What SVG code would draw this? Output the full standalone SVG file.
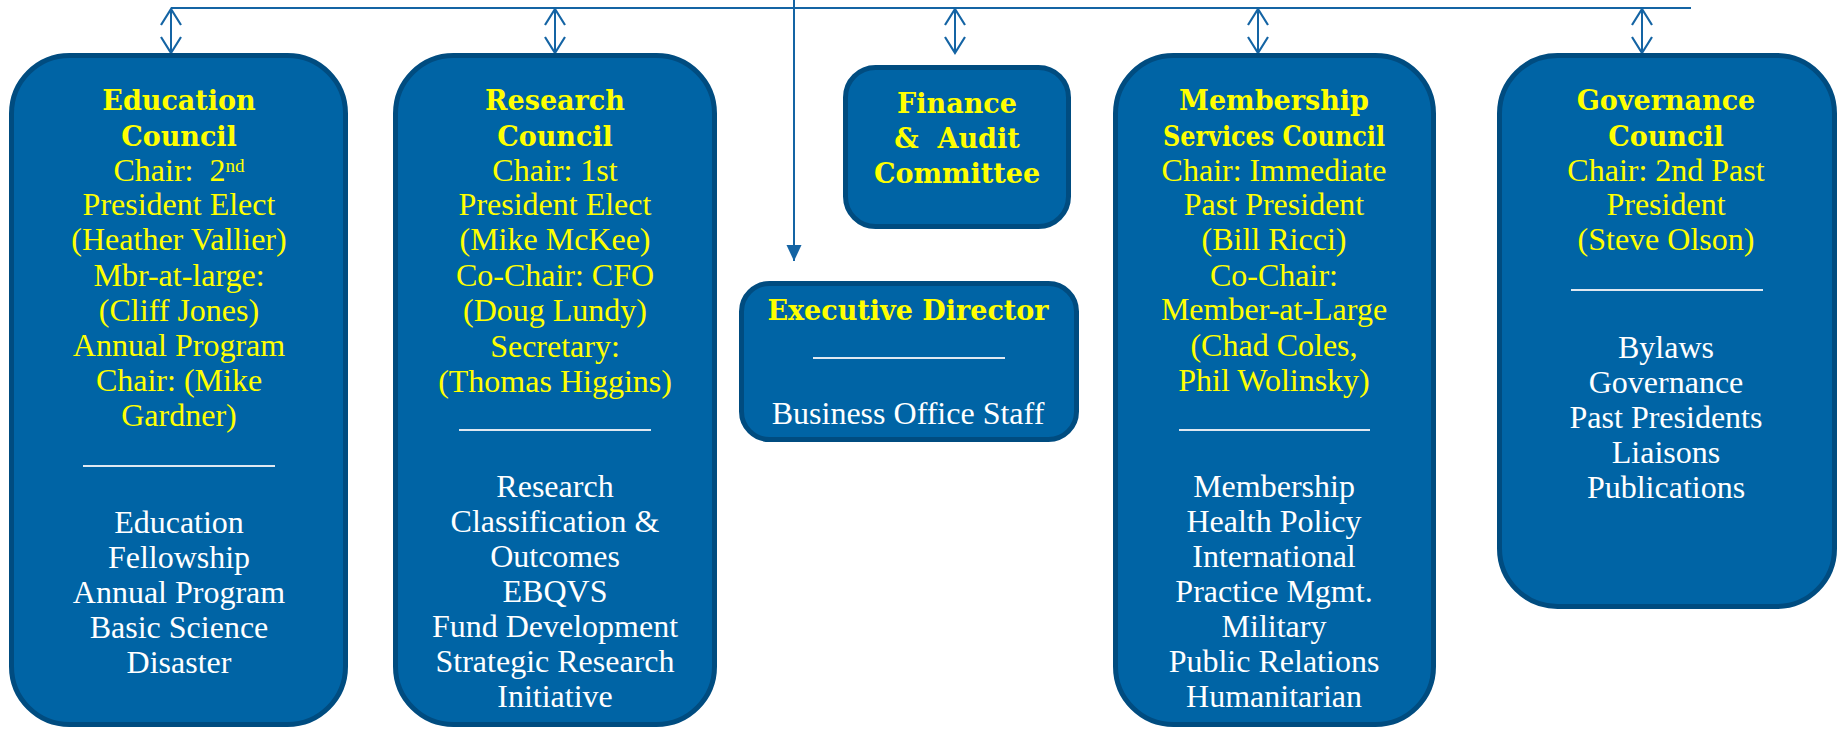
<svg xmlns="http://www.w3.org/2000/svg" width="1841" height="729" viewBox="0 0 1841 729">
<defs>
<style>
.box{fill:#0064a5;stroke:#004c80;stroke-width:5}
.h{font-family:"DejaVu Serif","Liberation Serif",serif;font-weight:bold;font-size:27px;fill:#ffff00;text-anchor:middle}
.y{font-family:"Liberation Serif","Times New Roman",serif;font-size:32px;fill:#ffff00;text-anchor:middle;white-space:pre}
.w{font-family:"Liberation Serif","Times New Roman",serif;font-size:32px;fill:#ffffff;text-anchor:middle}
.sep{stroke:#dfe8f1;stroke-width:2}
.conn{stroke:#1464a4;stroke-width:2;fill:none}
</style>
<marker id="chev" markerUnits="userSpaceOnUse" orient="auto-start-reverse" overflow="visible" markerWidth="1" markerHeight="1" refX="0" refY="0">
<path d="M-16,-10 L0,0 L-16,10" fill="none" stroke="#1464a4" stroke-width="2.2"/>
</marker>
<marker id="tri" markerUnits="userSpaceOnUse" orient="auto" overflow="visible" markerWidth="1" markerHeight="1" refX="0" refY="0">
<path d="M-16,-7.5 L0,0 L-16,7.5 Z" fill="#1464a4"/>
</marker>
</defs>
<rect width="1841" height="729" fill="#ffffff"/>

<g id="connectors">
<line class="conn" x1="171" y1="8" x2="1691" y2="8"/>
<line class="conn" x1="794" y1="0" x2="794" y2="261" marker-end="url(#tri)"/>
<line class="conn" x1="171" y1="9" x2="171" y2="53" marker-start="url(#chev)" marker-end="url(#chev)"/>
<line class="conn" x1="555" y1="9" x2="555" y2="53" marker-start="url(#chev)" marker-end="url(#chev)"/>
<line class="conn" x1="955" y1="9" x2="955" y2="53" marker-start="url(#chev)" marker-end="url(#chev)"/>
<line class="conn" x1="1258" y1="9" x2="1258" y2="53" marker-start="url(#chev)" marker-end="url(#chev)"/>
<line class="conn" x1="1642" y1="9" x2="1642" y2="53" marker-start="url(#chev)" marker-end="url(#chev)"/>
</g>

<g id="education">
<rect class="box" x="11.5" y="55.5" width="334" height="669" rx="58"/>
<text class="h" x="179" y="110">Education</text>
<text class="h" x="179" y="146">Council</text>
<text class="y" x="179" y="181">Chair:  2<tspan dy="-9" font-size="19">nd</tspan></text>
<text class="y" x="179" y="215">President Elect</text>
<text class="y" x="179" y="250">(Heather Vallier)</text>
<text class="y" x="179" y="286">Mbr-at-large:</text>
<text class="y" x="179" y="321">(Cliff Jones)</text>
<text class="y" x="179" y="356">Annual Program</text>
<text class="y" x="179" y="391">Chair: (Mike</text>
<text class="y" x="179" y="426">Gardner)</text>
<line class="sep" x1="83" y1="466" x2="275" y2="466"/>
<text class="w" x="179" y="533">Education</text>
<text class="w" x="179" y="568">Fellowship</text>
<text class="w" x="179" y="603">Annual Program</text>
<text class="w" x="179" y="638">Basic Science</text>
<text class="w" x="179" y="673">Disaster</text>
</g>

<g id="research">
<rect class="box" x="395.5" y="55.5" width="319" height="669" rx="58"/>
<text class="h" x="555" y="110">Research</text>
<text class="h" x="555" y="146">Council</text>
<text class="y" x="555" y="181">Chair: 1st</text>
<text class="y" x="555" y="215">President Elect</text>
<text class="y" x="555" y="250">(Mike McKee)</text>
<text class="y" x="555" y="286">Co-Chair: CFO</text>
<text class="y" x="555" y="321">(Doug Lundy)</text>
<text class="y" x="555" y="357">Secretary:</text>
<text class="y" x="555" y="392">(Thomas Higgins)</text>
<line class="sep" x1="459" y1="430" x2="651" y2="430"/>
<text class="w" x="555" y="497">Research</text>
<text class="w" x="555" y="532">Classification &amp;</text>
<text class="w" x="555" y="567">Outcomes</text>
<text class="w" x="555" y="602">EBQVS</text>
<text class="w" x="555" y="637">Fund Development</text>
<text class="w" x="555" y="672">Strategic Research</text>
<text class="w" x="555" y="707">Initiative</text>
</g>

<g id="finance">
<rect class="box" x="845.5" y="67.5" width="223" height="159" rx="30"/>
<text class="h" x="957" y="113">Finance</text>
<text class="h" x="957" y="148" style="white-space:pre">&amp;  Audit</text>
<text class="h" x="957" y="183">Committee</text>
</g>

<g id="executive">
<rect class="box" x="741.5" y="283.5" width="335" height="156" rx="28"/>
<text class="h" x="908" y="320">Executive Director</text>
<line class="sep" x1="813" y1="358" x2="1005" y2="358"/>
<text class="w" x="908" y="424">Business Office Staff</text>
</g>

<g id="membership">
<rect class="box" x="1115.5" y="55.5" width="318" height="669" rx="58"/>
<text class="h" x="1274" y="110">Membership</text>
<text class="h" x="1274" y="146" textLength="222" lengthAdjust="spacingAndGlyphs">Services Council</text>
<text class="y" x="1274" y="181">Chair: Immediate</text>
<text class="y" x="1274" y="215">Past President</text>
<text class="y" x="1274" y="250">(Bill Ricci)</text>
<text class="y" x="1274" y="286">Co-Chair:</text>
<text class="y" x="1274" y="320">Member-at-Large</text>
<text class="y" x="1274" y="356">(Chad Coles,</text>
<text class="y" x="1274" y="391">Phil Wolinsky)</text>
<line class="sep" x1="1179" y1="430" x2="1370" y2="430"/>
<text class="w" x="1274" y="497">Membership</text>
<text class="w" x="1274" y="532">Health Policy</text>
<text class="w" x="1274" y="567">International</text>
<text class="w" x="1274" y="602">Practice Mgmt.</text>
<text class="w" x="1274" y="637">Military</text>
<text class="w" x="1274" y="672">Public Relations</text>
<text class="w" x="1274" y="707">Humanitarian</text>
</g>

<g id="governance">
<rect class="box" x="1499.5" y="55.5" width="335" height="551" rx="58"/>
<text class="h" x="1666" y="110">Governance</text>
<text class="h" x="1666" y="146">Council</text>
<text class="y" x="1666" y="181">Chair: 2nd Past</text>
<text class="y" x="1666" y="215">President</text>
<text class="y" x="1666" y="250">(Steve Olson)</text>
<line class="sep" x1="1571" y1="290" x2="1763" y2="290"/>
<text class="w" x="1666" y="358">Bylaws</text>
<text class="w" x="1666" y="393">Governance</text>
<text class="w" x="1666" y="428">Past Presidents</text>
<text class="w" x="1666" y="463">Liaisons</text>
<text class="w" x="1666" y="498">Publications</text>
</g>
</svg>
